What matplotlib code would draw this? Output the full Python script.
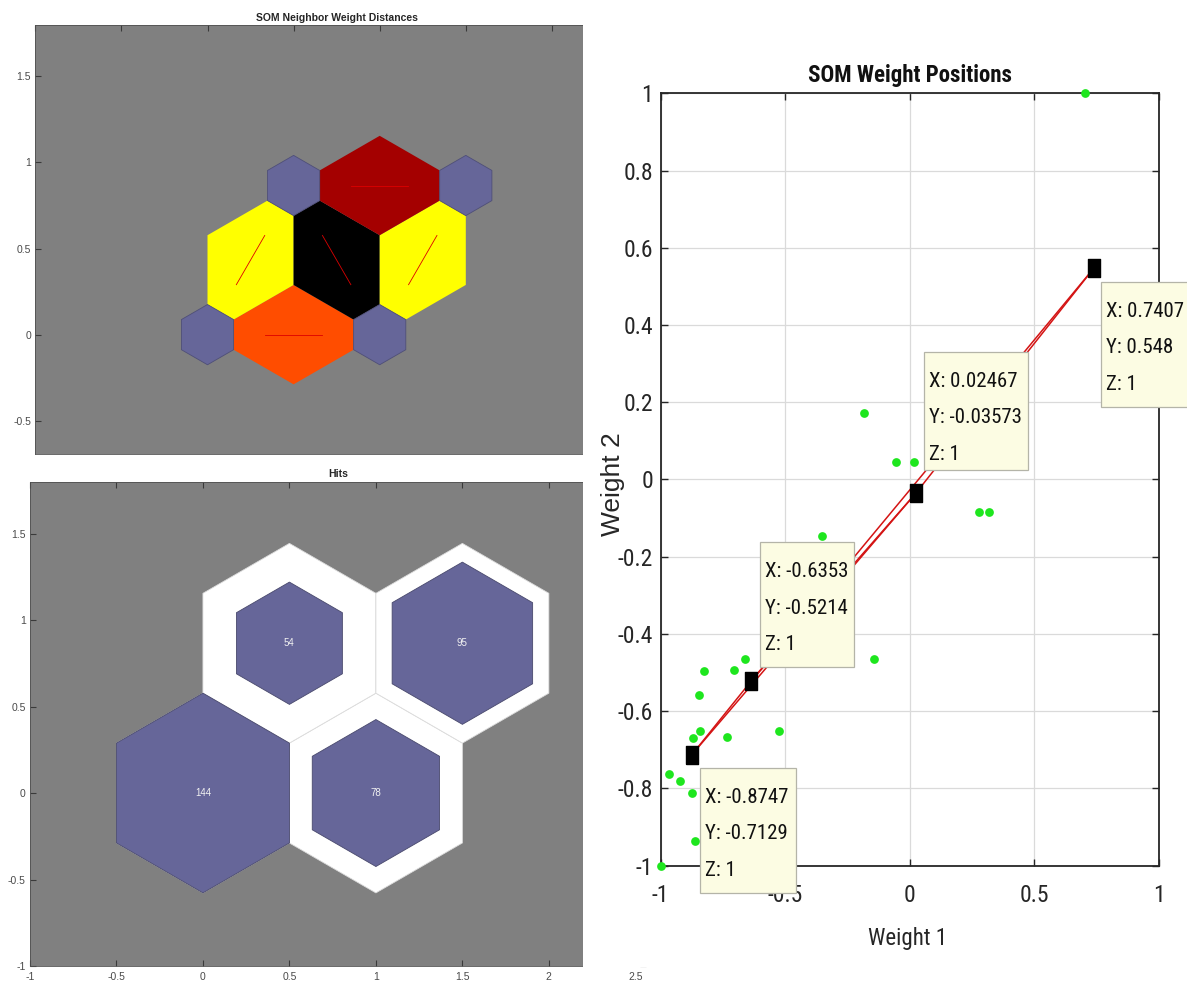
import numpy as np
import matplotlib
matplotlib.use("Agg")
import matplotlib.pyplot as plt
import matplotlib.transforms as mtransforms
from matplotlib.patches import Polygon, Rectangle
from matplotlib.colors import LinearSegmentedColormap
from matplotlib import font_manager as fm

# ---------------- data ----------------
# 2x2 hexagonal SOM grid (neuron positions in topology space)
grid_x = [0.0, 1.0, 0.5, 1.5]
grid_y = [0.0, 0.0, 0.8660, 0.8660]
neighbor_pairs = [(0, 1), (0, 2), (1, 2), (1, 3), (2, 3)]
# normalised neighbour weight distance (0 = closest, 1 = farthest)
neighbor_dist = [0.35, 0.0, 1.0, 0.0, 0.676]

# number of input vectors won by each neuron
hits = [144, 78, 54, 95]

# neuron weight vectors
weight1 = [-0.8747, 0.02467, -0.6353, 0.7407]
weight2 = [-0.7129, -0.03573, -0.5214, 0.548]
weight3 = [1, 1, 1, 1]

# input vectors
input_x = [0.705, -0.183, -0.056, 0.017, 0.280, 0.318, -0.352, -0.143, -0.663,
           -0.824, -0.704, -0.844, -0.526, -0.842, -0.870, -0.735, -0.966,
           -0.922, -0.874, -0.861, -1.0]
input_y = [1.0, 0.171, 0.045, 0.045, -0.083, -0.083, -0.146, -0.464, -0.464,
           -0.496, -0.494, -0.559, -0.652, -0.652, -0.669, -0.668, -0.762,
           -0.780, -0.812, -0.937, -1.0]

topo_xticks = [-1, -0.5, 0, 0.5, 1, 1.5, 2, 2.5]
topo_xticklabels = ["-1", "-0.5", "0", "0.5", "1", "1.5", "2", "2.5"]
nd_yticks = [-0.5, 0, 0.5, 1, 1.5]
nd_yticklabels = ["-0.5", "0", "0.5", "1", "1.5"]
hits_yticks = [-1, -0.5, 0, 0.5, 1, 1.5]
hits_yticklabels = ["-1", "-0.5", "0", "0.5", "1", "1.5"]
w1_ticks = [-1, -0.5, 0, 0.5, 1]
w1_ticklabels = ["-1", "-0.5", "0", "0.5", "1"]
w2_ticks = [-1, -0.8, -0.6, -0.4, -0.2, 0, 0.2, 0.4, 0.6, 0.8, 1]
w2_ticklabels = ["-1", "-0.8", "-0.6", "-0.4", "-0.2", "0", "0.2", "0.4", "0.6", "0.8", "1"]

# ---------------- fonts ----------------
_names = {f.name for f in fm.fontManager.ttflist}
NARROW = next((n for n in ["Liberation Sans Narrow", "Arial Narrow", "Roboto Condensed",
                           "Noto Sans Condensed", "Open Sans Condensed", "Liberation Sans"]
               if n in _names), "DejaVu Sans")
SANS = "Liberation Sans" if "Liberation Sans" in _names else "DejaVu Sans"
plt.rcParams["font.family"] = [SANS, "DejaVu Sans"]

# ---------------- figure ----------------
W, H = 1187, 982
fig = plt.figure(figsize=(W / 100, H / 100), dpi=100)
fig.patch.set_facecolor("white")


def px_rect(l, t, r, b):
    return [l / W, 1 - b / H, (r - l) / W, (b - t) / H]


def hex_vertices(cx, cy, r):
    ang = np.deg2rad(np.arange(30, 390, 60))
    return np.column_stack([cx + r * np.cos(ang), cy + r * np.sin(ang)])


def style_topo_axes(ax, xlim, ylim, yticks, yticklabels, show_bottom):
    ax.set_facecolor("#808080")
    ax.set_xlim(*xlim)
    ax.set_ylim(*ylim)
    ax.set_aspect("equal")
    ax.set_xticks(topo_xticks)
    ax.set_xticklabels(topo_xticklabels)
    ax.set_yticks(yticks)
    ax.set_yticklabels(yticklabels)
    ax.tick_params(direction="in", length=4, width=0.8, color="#3a3a3a",
                   labelsize=7.5, labelcolor="#4a4a4a", pad=3,
                   top=True, right=True, bottom=show_bottom, labelbottom=show_bottom)
    for s in ax.spines.values():
        s.set_color("#505050")
        s.set_linewidth(0.6)


# ---- SOM Neighbor Weight Distances ----
ax1 = fig.add_axes(px_rect(35.3, 24, 638, 455), zorder=0)
style_topo_axes(ax1, (-1.0, 2.49), (-0.695, 1.80), nd_yticks, nd_yticklabels, False)
ax1.set_title("SOM Neighbor Weight Distances", fontsize=7.5, fontweight="bold",
              color="#262626", pad=2.9)

cmap = LinearSegmentedColormap.from_list("nd", ["#ffff00", "#ff0000", "#000000"])
r_small = 0.175
h_vor = 0.5 / np.sqrt(3)
pos = np.column_stack([grid_x, grid_y])


def unit(a):
    return np.array([np.cos(a), np.sin(a)])


for (i, j), dist in zip(neighbor_pairs, neighbor_dist):
    p, q = pos[i], pos[j]
    d = q - p
    th = np.arctan2(d[1], d[0])
    n = np.array([-np.sin(th), np.cos(th)])
    mid = (p + q) / 2
    verts = [p + r_small * unit(th + np.pi / 6), mid + n * h_vor,
             q + r_small * unit(th + 5 * np.pi / 6), q + r_small * unit(th + 7 * np.pi / 6),
             mid - n * h_vor, p + r_small * unit(th - np.pi / 6)]
    ax1.add_patch(Polygon(verts, closed=True, fc=cmap(dist), ec="none", zorder=2))
    u = d / np.linalg.norm(d)
    a, b = mid - u * 0.165, mid + u * 0.165
    ax1.plot([a[0], b[0]], [a[1], b[1]], color="#dd0000", lw=0.6, zorder=3)

for gx, gy in zip(grid_x, grid_y):
    ax1.add_patch(Polygon(hex_vertices(gx, gy, r_small), closed=True,
                          fc="#666699", ec="#4f4f78", lw=0.6, zorder=4))

# ---- Hits ----
ax2 = fig.add_axes(px_rect(29.4, 481.7, 646.3, 966), zorder=0)
style_topo_axes(ax2, (-1.0, 2.56), (-1.0, 1.80), hits_yticks, hits_yticklabels, True)
ax2.tick_params(axis="x", pad=4.5)
ax2.set_title("Hits", fontsize=7.5, fontweight="bold", color="#262626", pad=3.4)

R_full = 1 / np.sqrt(3)
max_hits = max(hits)
for gx, gy in zip(grid_x, grid_y):
    ax2.add_patch(Polygon(hex_vertices(gx, gy, R_full), closed=True,
                          fc="white", ec="#dcdcdc", lw=0.6, zorder=2))
for gx, gy, hcount in zip(grid_x, grid_y, hits):
    rr = R_full * np.sqrt(hcount / max_hits)
    ax2.add_patch(Polygon(hex_vertices(gx, gy, rr), closed=True,
                          fc="#666699", ec="#48486c", lw=0.6, zorder=3))
    ax2.text(gx, gy, str(hcount), ha="center", va="center", fontsize=7,
             color="#f2f2f2", zorder=4)

# white backdrop for the weight-position view
fig.add_artist(Rectangle((582.5 / W, 1 - 967 / H), (W - 582.5) / W, 967 / H,
                         transform=fig.transFigure, fc="white", ec="none", zorder=1))

# ---- SOM Weight Positions ----
ax3 = fig.add_axes(px_rect(660.6, 93.3, 1158.7, 865.6), zorder=2)
ax3.set_facecolor("white")
ax3.set_xlim(-1, 1)
ax3.set_ylim(-1, 1)
ax3.set_xticks(w1_ticks)
ax3.set_xticklabels(w1_ticklabels)
ax3.set_yticks(w2_ticks)
ax3.set_yticklabels(w2_ticklabels)
ax3.tick_params(direction="in", length=5, width=1.0, color="#262626",
                labelsize=17, labelcolor="#262626", top=True, right=True)
ax3.tick_params(axis="x", pad=13.5)
ax3.tick_params(axis="y", pad=5.5)
for lab in ax3.get_xticklabels() + ax3.get_yticklabels():
    lab.set_family([NARROW, "DejaVu Sans"])
for s in ax3.spines.values():
    s.set_color("#262626")
    s.set_linewidth(1.3)
ax3.grid(True, color="#dadada", lw=0.9)
ax3.set_axisbelow(True)

ax3.set_title("SOM Weight Positions", fontsize=16.5, fontweight="bold",
              family=[NARROW, "DejaVu Sans"], color="#111111", pad=8)
ax3.set_xlabel("Weight 1", fontsize=16.5, family=[NARROW, "DejaVu Sans"], color="#262626")
ax3.xaxis.set_label_coords(0.495, -0.0795)
ax3.set_ylabel("Weight 2", fontsize=19, family=[SANS, "DejaVu Sans"], color="#262626")
ax3.yaxis.set_label_coords(-0.0715, 0.494)

# neighbour connections between weight vectors
for i, j in neighbor_pairs:
    ax3.plot([weight1[i], weight1[j]], [weight2[i], weight2[j]],
             color="#d41414", lw=1.1, zorder=2, solid_capstyle="butt")

# input vectors
ax3.plot(input_x, input_y, "o", ms=6.3, color="#1ee61e", mec="none", zorder=3, clip_on=False)

# data-tip markers (tall square)
tip_marker = [(-0.32, -0.5), (0.32, -0.5), (0.32, 0.5), (-0.32, 0.5), (-0.32, -0.5)]
ax3.plot(weight1, weight2, linestyle="none", marker=tip_marker, ms=13,
         color="black", zorder=4, clip_on=False)

# data-tip boxes: (left offset, bottom offset, width, height) in pixels from the point
tip_boxes = {3: (6.9, -138.9, 110, 125),
             1: (8.6, 23.3, 104, 118),
             2: (8.5, 13.6, 94, 125),
             0: (8.2, -138.0, 95.6, 125)}
for k, (ox, oy, bw, bh) in tip_boxes.items():
    anchor = mtransforms.ScaledTranslation(weight1[k], weight2[k], ax3.transData)
    box = Rectangle((ox, oy), bw, bh, transform=mtransforms.Affine2D() + anchor,
                    fc="#fcfce3", ec="#b4b4a8", lw=0.9, zorder=6, clip_on=False)
    ax3.add_patch(box)
    label = f"X: {weight1[k]:.4g}\nY: {weight2[k]:.4g}\nZ: {weight3[k]:.4g}"
    ax3.annotate(label, xy=(weight1[k], weight2[k]), xytext=(ox + 5, oy + bh - 20),
                 textcoords="offset pixels", ha="left", va="top", fontsize=15,
                 family=[NARROW, "DejaVu Sans"], color="#111111", linespacing=2.17,
                 zorder=7, annotation_clip=False)

fig.savefig("out.png", dpi=100, facecolor="white")
